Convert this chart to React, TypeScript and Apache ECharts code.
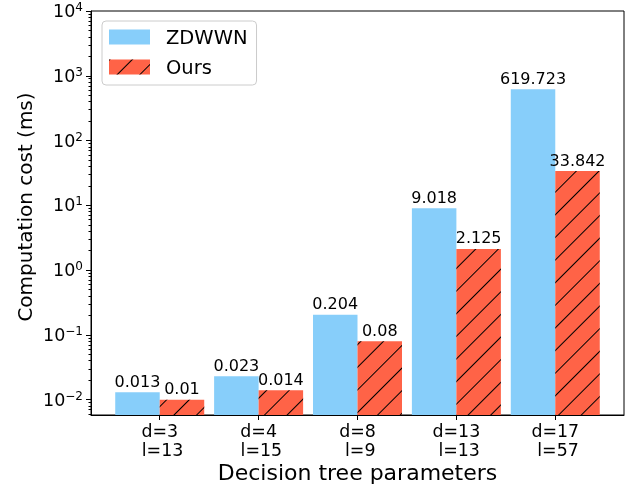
import React, { useEffect, useRef } from 'react';
import * as echarts from 'echarts';

const categories = ['d=3\n l=13', 'd=4\n l=15', 'd=8\n l=9', 'd=13\n l=13', 'd=17\n l=57'];
const zdwwnValues = [0.013, 0.023, 0.204, 9.018, 619.723];
const oursValues = [0.01, 0.014, 0.08, 2.125, 33.842];
const seriesNames = ['ZDWWN', 'Ours'];
const majorTicks = [0.01, 0.1, 1, 10, 100, 1000, 10000];
const categoryPositions = [0, 1, 2, 3, 4];
const yMin = 0.0058;
const yMax = 10000;

const FONT = 'DejaVu Sans';

export default function App() {
  const ref = useRef<HTMLDivElement>(null);
  useEffect(() => {
    const chart = echarts.init(ref.current!, null, { renderer: 'svg' });
    const minorTicks: number[] = [];
    for (let e = -3; e < 4; e++) {
      for (let m = 2; m <= 9; m++) {
        const v = parseFloat((m * Math.pow(10, e)).toPrecision(6));
        if (v >= yMin && v <= yMax) minorTicks.push(v);
      }
    }
    const valueLabel = {
      show: true,
      position: 'top',
      distance: 3,
      color: '#000',
      fontSize: 16,
      fontFamily: FONT,
      formatter: (p: any) => String(p.value[1]),
    };
    const option: any = {
      animation: false,
      textStyle: { fontFamily: FONT },
      grid: {
        left: 91, right: 11, top: 11, bottom: 76,
        show: true, borderColor: '#000', borderWidth: 1, backgroundColor: 'transparent',
        containLabel: false,
      },
      legend: {
        orient: 'vertical',
        left: 102,
        top: 21,
        itemWidth: 41,
        itemHeight: 15,
        itemGap: 8,
        padding: [5, 9, 7, 7],
        backgroundColor: 'rgba(255,255,255,0.8)',
        borderColor: '#cccccc',
        borderWidth: 1,
        borderRadius: 4,
        icon: 'rect',
        textStyle: { fontSize: 19.5, fontFamily: FONT, color: '#000', lineHeight: 22, padding: [0, 0, 0, 11] },
        data: seriesNames,
      },
      xAxis: {
        type: 'value',
        min: -0.695,
        max: 4.695,
        axisLine: { show: true, onZero: false, lineStyle: { color: '#000', width: 1 } },
        splitLine: { show: false },
        axisTick: { show: true, customValues: categoryPositions, length: 5, lineStyle: { color: '#000', width: 1 } },
        axisLabel: {
          customValues: categoryPositions,
          formatter: (v: number) => categories[Math.round(v)],
          color: '#000',
          fontSize: 17.4,
          fontFamily: FONT,
          lineHeight: 19,
          margin: 6,
        },
      },
      yAxis: [
        {
          type: 'log',
          logBase: 10,
          min: yMin,
          max: yMax,
          startValue: yMin,
          axisLine: { show: true, onZero: false, lineStyle: { color: '#000', width: 1 } },
          splitLine: { show: false },
          minorTick: { show: false },
          axisTick: { show: true, customValues: majorTicks, length: 5, lineStyle: { color: '#000', width: 1 } },
          axisLabel: {
            customValues: majorTicks,
            margin: 8,
            formatter: (v: number) => {
              const e = Math.round(Math.log10(v));
              const s = e < 0 ? '\u2212' + -e : String(e);
              return '{b|10}{s|' + s + '}';
            },
            rich: {
              b: { fontSize: 17.5, fontFamily: FONT, color: '#000', lineHeight: 20 },
              s: { fontSize: 12, fontFamily: FONT, color: '#000', verticalAlign: 'top', lineHeight: 12 },
            },
          },
        },
        {
          type: 'log',
          logBase: 10,
          min: yMin,
          max: yMax,
          position: 'left',
          offset: 0,
          axisLine: { show: false, onZero: false },
          splitLine: { show: false },
          axisTick: { show: true, customValues: minorTicks, length: 2.5, lineStyle: { color: '#000', width: 1 } },
          axisLabel: { show: false },
        },
      ],
      series: [
        {
          name: seriesNames[0],
          type: 'bar',
          data: zdwwnValues.map((v, i) => [categoryPositions[i] - 0.225, v]),
          barWidth: 44.5,
          barGap: '-100%',
          itemStyle: { color: '#87CEFA' },
          label: valueLabel,
        },
        {
          name: seriesNames[1],
          type: 'bar',
          data: oursValues.map((v, i) => [categoryPositions[i] + 0.225, v]),
          barWidth: 44.5,
          barGap: '-100%',
          itemStyle: {
            color: '#FF6347',
            decal: {
              symbol: 'rect',
              symbolSize: 1,
              color: '#000',
              dashArrayX: [10, 0],
              dashArrayY: [1, 15],
              rotation: -Math.PI / 4,
            },
          },
          label: valueLabel,
        },
      ],
      graphic: [
        {
          type: 'text',
          x: 357.5,
          y: 472,
          style: { text: 'Decision tree parameters', fontSize: 22, fontFamily: FONT, fill: '#000', align: 'center', verticalAlign: 'middle' },
        },
        {
          type: 'text',
          x: 25,
          y: 207,
          rotation: Math.PI / 2,
          style: { text: 'Computation cost (ms)', fontSize: 20, fontFamily: FONT, fill: '#000', align: 'center', verticalAlign: 'middle' },
        },
      ],
    };
    chart.setOption(option);
    return () => chart.dispose();
  }, []);
  return <div ref={ref} style={{ position: 'fixed', left: 0, top: 0, width: 635, height: 491 }} />;
}
